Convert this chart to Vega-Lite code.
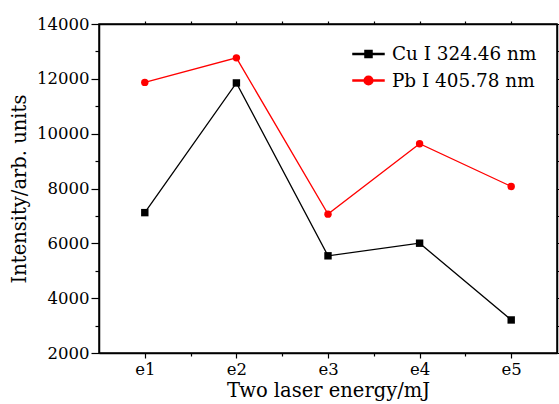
{
  "$schema": "https://vega.github.io/schema/vega-lite/v6.json",
  "width": 458,
  "height": 329,
  "autosize": {"type": "none"},
  "padding": {"left": 99, "top": 24, "right": 2, "bottom": 51},
  "background": "white",
  "config": {
    "font": "DejaVu Serif",
    "view": {"stroke": "black", "strokeWidth": 1.5},
    "axis": {
      "grid": false,
      "domainColor": "black",
      "domainWidth": 1.5,
      "tickColor": "black",
      "tickWidth": 1.2,
      "labelColor": "black",
      "titleColor": "black",
      "labelFont": "DejaVu Serif",
      "titleFont": "DejaVu Serif",
      "labelFontSize": 16.5,
      "titleFontSize": 19.5,
      "titleFontWeight": "normal"
    },
    "legend": {
      "orient": "none", "legendX": 258, "legendY": 18.5,
      "padding": 0, "title": null,
      "labelFont": "DejaVu Serif", "labelFontSize": 18.4, "labelColor": "black",
      "symbolSize": 427, "labelOffset": 12, "rowPadding": 5.5,
      "symbolOpacity": 1
    }
  },
  "data": {
    "values": [
      {"series": "Cu I 324.46 nm", "energy": 1, "intensity": 7120},
      {"series": "Cu I 324.46 nm", "energy": 2, "intensity": 11850},
      {"series": "Cu I 324.46 nm", "energy": 3, "intensity": 5545},
      {"series": "Cu I 324.46 nm", "energy": 4, "intensity": 6005},
      {"series": "Cu I 324.46 nm", "energy": 5, "intensity": 3205},
      {"series": "Pb I 405.78 nm", "energy": 1, "intensity": 11870},
      {"series": "Pb I 405.78 nm", "energy": 2, "intensity": 12765},
      {"series": "Pb I 405.78 nm", "energy": 3, "intensity": 7065},
      {"series": "Pb I 405.78 nm", "energy": 4, "intensity": 9635},
      {"series": "Pb I 405.78 nm", "energy": 5, "intensity": 8075}
    ]
  },
  "layer": [
    {
      "mark": {"type": "line", "strokeWidth": 1.3},
      "encoding": {
        "x": {
          "field": "energy", "type": "quantitative",
          "scale": {"domain": [0.5, 5.5], "nice": false, "zero": false},
          "axis": {
            "orient": "top", "title": null, "labels": false,
            "values": [1, 1.5, 2, 2.5, 3, 3.5, 4, 4.5, 5],
            "tickSize": 3
          }
        },
        "y": {
          "field": "intensity", "type": "quantitative",
          "scale": {"domain": [2000, 14000], "nice": false, "zero": false},
          "axis": {
            "orient": "right", "title": null, "labels": false,
            "values": [2000, 3000, 4000, 5000, 6000, 7000, 8000, 9000, 10000, 11000, 12000, 13000, 14000],
            "tickSize": 3
          }
        },
        "color": {
          "field": "series", "type": "nominal",
          "scale": {"domain": ["Cu I 324.46 nm", "Pb I 405.78 nm"], "range": ["#000000", "#ff0000"]}
        }
      }
    },
    {
      "mark": {"type": "point", "filled": true, "size": 55, "opacity": 1},
      "encoding": {
        "x": {
          "field": "energy", "type": "quantitative",
          "axis": {
            "orient": "bottom", "title": "Two laser energy/mJ",
            "values": [1, 1.5, 2, 2.5, 3, 3.5, 4, 4.5, 5],
            "labelExpr": "datum.value % 1 === 0 ? 'e' + datum.value : ''",
            "tickSize": {"condition": {"test": "datum.value % 1 === 0", "value": 5}, "value": 3},
            "labelPadding": 3,
            "titlePadding": 4
          }
        },
        "y": {
          "field": "intensity", "type": "quantitative",
          "axis": {
            "orient": "left", "title": "Intensity/arb. units",
            "values": [2000, 3000, 4000, 5000, 6000, 7000, 8000, 9000, 10000, 11000, 12000, 13000, 14000],
            "format": "d",
            "labelExpr": "datum.value % 2000 === 0 ? datum.label : ''",
            "tickSize": {"condition": {"test": "datum.value % 2000 === 0", "value": 8}, "value": 4},
            "labelPadding": 2,
            "titlePadding": 7
          }
        },
        "color": {"field": "series", "type": "nominal"},
        "shape": {
          "condition": {"test": "datum.series === 'Cu I 324.46 nm'", "value": "square"},
          "value": "circle"
        }
      }
    },
    {
      "transform": [{"filter": "false"}],
      "mark": {"type": "point", "filled": true, "opacity": 1},
      "encoding": {
        "x": {"field": "energy", "type": "quantitative", "axis": null},
        "y": {"field": "intensity", "type": "quantitative", "axis": null},
        "color": {"field": "series", "type": "nominal"},
        "shape": {
          "field": "series", "type": "nominal",
          "scale": {
            "domain": ["Cu I 324.46 nm", "Pb I 405.78 nm"],
            "range": [
              "M-1.5,-0.06H1.5V0.06H-1.5ZM-0.34,-0.34H0.34V0.34H-0.34Z",
              "M-1.5,-0.06H1.5V0.06H-1.5ZM0.42,0A0.42,0.42,0,1,1,-0.42,0A0.42,0.42,0,1,1,0.42,0Z"
            ]
          }
        }
      }
    }
  ],
  "resolve": {"axis": {"x": "independent", "y": "independent"}}
}
